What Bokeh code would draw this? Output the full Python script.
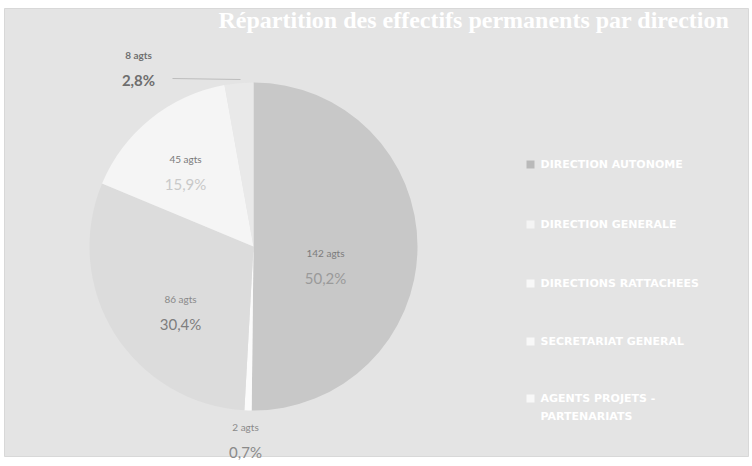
import math
from bokeh.plotting import figure
from bokeh.models import ColumnDataSource
from bokeh.core.properties import value
from bokeh.embed import file_html
from bokeh.resources import INLINE

# ---- data ----
categories = ["DIRECTION AUTONOME", "DIRECTION GENERALE", "DIRECTIONS RATTACHEES",
              "SECRETARIAT GENERAL", "AGENTS PROJETS -\nPARTENARIATS"]
agents = [142, 2, 86, 45, 8]
percents = ["50,2%", "0,7%", "30,4%", "15,9%", "2,8%"]
colors = ["#c8c8c8", "#fbfbfb", "#dcdcdc", "#f5f5f5", "#e9e9e9"]
title = "Répartition des effectifs permanents par direction"

W, H = 752, 466
p = figure(width=W, height=H, x_range=(0, W), y_range=(0, H),
           output_backend="svg", toolbar_location=None, min_border=0)
p.axis.visible = False
p.grid.visible = False
p.outline_line_color = None
p.background_fill_color = "white"
p.border_fill_color = "white"

def Y(py):
    return H - py

# panel background
p.quad(left=[4], right=[748], top=[Y(8)], bottom=[Y(456)],
       fill_color="#e4e4e4", line_color="#d8d8d8")

# pie
cx, cy, r = 253, Y(246), 164
total = sum(agents)
starts, ends, cum = [], [], 0
for a in agents:
    starts.append(math.pi / 2 - 2 * math.pi * cum / total)
    cum += a
    ends.append(math.pi / 2 - 2 * math.pi * cum / total)
src = ColumnDataSource(dict(start=starts, end=ends, color=colors))
p.wedge(x=cx, y=cy, radius=r, start_angle="start", end_angle="end",
        direction="clock", fill_color="color", line_color=None, source=src)

# data labels
lab_pos = [(325, 252), (245, 426), (180, 298), (185, 158), (138, 54)]
cnt_col = ["#7c7c7c", "#8a8a8a", "#8a8a8a", "#7a7a7a", "#707070"]
pct_col = ["#9a9a9a", "#8a8a8a", "#7e7e7e", "#c9c9c9", "#6e6e6e"]
for (lx, ly), a, pc, c1, c2 in zip(lab_pos, agents, percents, cnt_col, pct_col):
    p.text(x=[lx], y=[Y(ly)], text=[f"{a} agts"], text_align="center",
           text_baseline="middle", text_font=value("Lato"),
           text_font_size="10px", text_color=c1,
           text_font_style="bold" if a == 8 else "normal")
    p.text(x=[lx], y=[Y(ly + 25)], text=[pc], text_align="center",
           text_baseline="middle", text_font=value("Lato"),
           text_font_size="15px", text_color=c2,
           text_font_style="bold" if pc == "2,8%" else "normal")
# leader line for small slice
p.line(x=[172, 240], y=[Y(78), Y(79)], line_color="#bdbdbd", line_width=1)

# title
p.text(x=[218], y=[Y(19)], text=[title], text_align="left",
       text_baseline="middle", text_font=value("Liberation Serif"),
       text_font_size="24px", text_font_style="bold", text_color="white")

# legend
leg_y = [164, 224, 283, 341, 398]
leg_marker = ["#b9b9b9", "#f4f4f4", "#f8f8f8", "#f8f8f8", "#f8f8f8"]
for ly, cat, mc in zip(leg_y, categories, leg_marker):
    p.scatter(x=[530], y=[Y(ly)], marker="square", size=8,
              fill_color=mc, line_color=None)
    p.text(x=[540], y=[Y(ly - 7)], text=[cat], text_align="left",
           text_baseline="top", text_font=value("DejaVu Sans"),
           text_font_size="11px", text_font_style="bold",
           text_color="white", text_line_height=1.4)

open("out.html", "w").write(file_html(p, INLINE))
